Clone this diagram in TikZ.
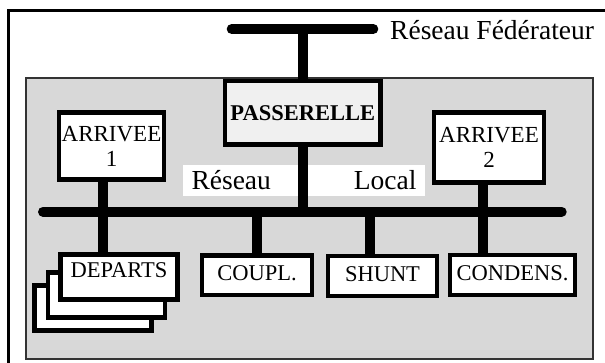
\documentclass[tikz,border=0pt]{standalone}
\usepackage{fontspec}
\setmainfont{Liberation Serif}
\usetikzlibrary{positioning}
\definecolor{zonegray}{HTML}{D8D8D8}
\definecolor{gwgray}{HTML}{F0F0F0}

\begin{document}
\begin{tikzpicture}[
    x=1pt, y=-1pt,
    bus/.style={line width=10pt, line cap=round},
    tap/.style={line width=10pt},
    unit/.style={rectangle, draw=black, line width=4.5pt, fill=white, align=center, inner sep=0pt, font=\fontsize{22.5}{25}\selectfont},
    feeder/.style={unit, text height=15pt, text depth=4pt},
    biglabel/.style={font=\fontsize{27.5}{30}\selectfont, inner sep=0pt}
]
\clip (0,0) rectangle (605,363);

% Frame and substation zone
\draw[line width=2.5pt] (8.7,10.5) rectangle (640,400);
\node[rectangle, draw=black!80, line width=2pt, fill=zonegray, minimum width=567.3, minimum height=281, inner sep=0pt] (zone) at (309.65,218.5) {};

% Backbone
\coordinate (fedL) at (231.7,29);
\coordinate (fedR) at (373.3,29);
\coordinate (fedT) at (303,29);
\draw[bus] (fedL) -- (fedR);
\node[biglabel, anchor=base west] (fedtxt) at (390,40) {Réseau Fédérateur};

% Local network
\node[biglabel, fill=white, text width=225pt, inner xsep=8.5pt, minimum height=31pt, text height=21pt, text depth=3pt] (loctxt) at (304,180.5) {Réseau\hfill Local};
\coordinate (busL) at (43,211.7);
\coordinate (busR) at (561.7,211.7);
\coordinate (t1) at (103,211.7);
\coordinate (t2) at (257,211.7);
\coordinate (t3) at (370,211.7);
\coordinate (t4) at (483,211.7);
\coordinate (tgw) at (303,211.7);

% Units
\node[unit, fill=gwgray, minimum width=155.5, minimum height=63.5, font=\fontsize{22.5}{25}\selectfont\bfseries] (gw) at (302.75,112.75) {PASSERELLE};
\node[unit, minimum width=105, minimum height=67, font=\fontsize{23}{25}\selectfont] (arr1) at (111.5,146) {ARRIVEE\\1};
\node[unit, minimum width=110, minimum height=70, font=\fontsize{23}{25}\selectfont] (arr2) at (489,147.5) {ARRIVEE\\2};

% Connections
\draw[tap] (fedT) -- (fedT |- gw.north);
\draw[tap] (gw.south -| tgw) -- (tgw);
\draw[tap] (arr1.south -| t1) -- (t1) -- ++(0,45);
\draw[tap] (arr2.south -| t4) -- (t4) -- ++(0,45);
\draw[tap] (t2) -- ++(0,45);
\draw[tap] (t3) -- ++(0,45);
\draw[bus] (busL) -- (busR);

% Feeders
\node[unit, minimum width=117, minimum height=45] (dep3) at (93,308) {};
\node[unit, minimum width=117, minimum height=45] (dep2) at (106.5,295) {};
\node[unit, minimum width=117, minimum height=45, text height=15pt, text depth=14pt] (dep) at (119,277) {DEPARTS};
\node[feeder, minimum width=110, minimum height=39.5] (coupl) at (257,275.3) {COUPL.};
\node[feeder, minimum width=109, minimum height=40] (shunt) at (382.5,275.8) {SHUNT};
\node[feeder, minimum width=125, minimum height=40] (cond) at (512.5,275) {CONDENS.};
\end{tikzpicture}
\end{document}
